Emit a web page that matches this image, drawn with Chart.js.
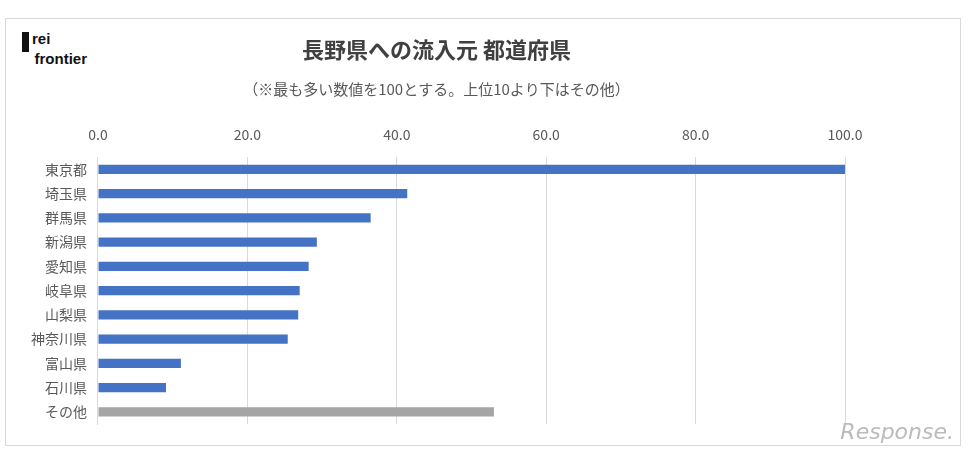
<!DOCTYPE html>
<html>
<head>
<meta charset="utf-8">
<script src="https://cdn.jsdelivr.net/npm/chart.js@4"></script>
<style>
  body { margin: 0; background: #fff; }
  #wrap { position: absolute; left: 5px; top: 18px; width: 954px; height: 426px; border: 1px solid #d9d9d9; }
  #logo { position: absolute; left: 22px; top: 32px; font: bold 15px "Liberation Sans", sans-serif; line-height: 14px; color: #111; }
  #logo span { display: inline-block; width: 7px; height: 20px; background: #111; vertical-align: top; margin-right: 3px; }
  #wm { position: absolute; right: 14px; bottom: 8px; font: italic 22px "DejaVu Sans", sans-serif; color: #bbb; }
</style>
</head>
<body>
<div id="wrap"></div>
<div id="logo"><span></span>rei<br>&nbsp;&nbsp;&nbsp;frontier</div>
<canvas id="c" width="968" height="452" style="position:absolute;left:0;top:0"></canvas>
<div id="wm">Response.</div>
<script>
const categories = ["東京都", "埼玉県", "群馬県", "新潟県", "愛知県", "岐阜県", "山梨県", "神奈川県", "富山県", "石川県", "その他"];
const values = [100, 41.4, 36.5, 29.3, 28.2, 27.0, 26.8, 25.4, 11.1, 9.1, 53.0];
const barColors = ["#4472c4", "#4472c4", "#4472c4", "#4472c4", "#4472c4", "#4472c4", "#4472c4", "#4472c4", "#4472c4", "#4472c4", "#a5a5a5"];

new Chart(document.getElementById("c"), {
  type: "bar",
  data: {
    labels: categories,
    datasets: [{ data: values, backgroundColor: barColors, barPercentage: 0.7, categoryPercentage: 0.55 }]
  },
  options: {
    indexAxis: "y",
    responsive: false,
    animation: false,
    layout: { padding: { left: 28, right: 123, top: 36, bottom: 28 } },
    plugins: {
      legend: { display: false },
      title: { display: true, text: "長野県への流入元 都道府県", color: "#404040",
        font: { family: "Noto Sans CJK JP", size: 22, weight: "bold" }, padding: { bottom: 18 } },
      subtitle: { display: true, text: "（※最も多い数値を100とする。上位10より下はその他）", color: "#595959",
        font: { family: "Noto Sans CJK JP", size: 15 }, padding: { bottom: 14 } }
    },
    scales: {
      x: { position: "top", min: 0, max: 100,
        ticks: { stepSize: 20, padding: 14, color: "#595959", font: { family: "Noto Sans CJK JP", size: 14 },
          callback: v => v.toFixed(1) },
        grid: { color: "#d9d9d9", drawTicks: false }, border: { display: false } },
      y: { ticks: { color: "#595959", font: { family: "Noto Sans CJK JP", size: 14 } },
        grid: { display: false }, border: { color: "#d9d9d9" } }
    }
  }
});
</script>
</body>
</html>
